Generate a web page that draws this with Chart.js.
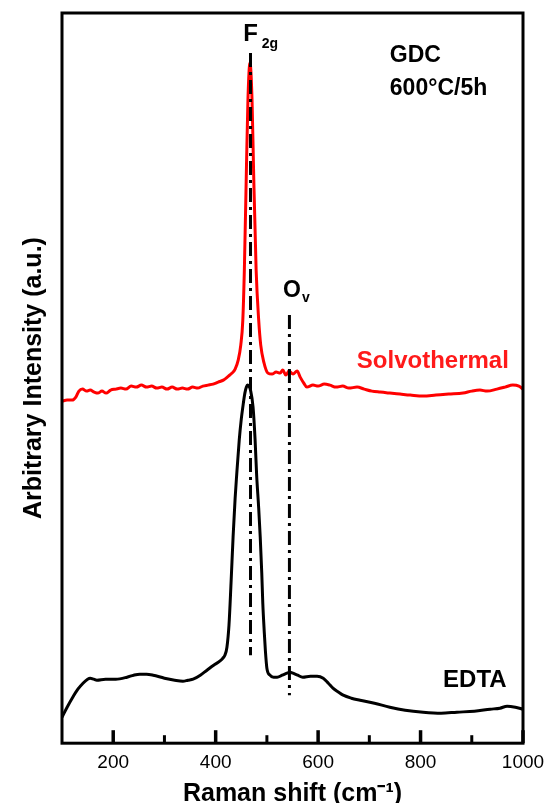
<!DOCTYPE html>
<html>
<head>
<meta charset="utf-8">
<script src="https://cdn.jsdelivr.net/npm/chart.js@4.4.1/dist/chart.umd.min.js"></script>
<style>
  html, body { margin:0; padding:0; background:#fff; }
  #wrap { width:547px; height:803px; position:relative; }
</style>
</head>
<body>
<div id="wrap"><canvas id="c"></canvas></div>
<script>
// Raman spectra, intensity in arbitrary units (offset traces)
const solvoShift = [100,110,120,127,133,140,148,155,163,170,178,186,195,205,215,225,235,245,255,265,275,285,295,305,315,325,335,345,355,365,375,385,395,405,415,425,432,438,444,449,453,456,460,463,467,471,474,479,484,488,494,502,510,518,526,531,537,543,551,559,565,572,578,590,600,612,623,635,648,660,676,690,705,721,740,760,780,805,830,855,883,900,916,930,949,965,980,992,1000];
const solvoInt   = [342,343,343,346,352,354,352,353,351,350,352,350,353,354,355,354,357,356,358,356,357,355,356,354,356,354,355,354,356,355,357,358,359,361,363,367,370,374,383,398,423,473,573,643,680,643,573,473,423,398,381,370,369,371,370,373,368,372,369,372,366,360,356,358,357,359,358,356,357,355,356,354,352,351,350,349,348,347,348,349,350,352,353,352,354,356,358,357,354];

const edtaShift = [100,110,121,131,141,150,155,162,168,185,205,227,240,252,265,278,300,320,336,346,356,370,383,396,408,414,418,422,426,430,434,438,441,446,450,453,457,460,462,465,468,473,477,480,484,487,490,492,495,497,500,506,513,520,530,539,545,551,560,570,585,598,610,620,629,640,649,665,682,710,740,770,805,840,871,905,936,955,969,985,1000];
const edtaInt   = [26,36,46,54,60,64,65,64,63,64,64,66,68,69,69,68,65,63,62,63,64,68,73,78,82,85,88,96,118,160,206,245,268,303,324,336,350,356,358,357,353,336,303,268,235,206,170,140,110,93,75,68,66,66,68,70,71,70,68,66,67,67,65,60,55,51,48,45,43,40,36,33,31,30,31,32,34,35,37,36,34];

// guide lines for the F2g and Ov modes
const f2gLineX = [468,468], f2gLineY = [690,88];
const ovLineX  = [544,544], ovLineY  = [428,48];

const majorTicks = [200,400,600,800,1000];
const minorTicks = [300,500,700,900];

const pts = (xs, ys) => xs.map((x,i) => ({x, y: ys[i]}));
const FONT = '"Liberation Sans", Arial, sans-serif';

const frame = {
  id:'frame',
  afterDatasetsDraw(chart){
    const {ctx, chartArea:a, scales:{x, y}} = chart;
    ctx.save();
    ctx.strokeStyle = '#000';
    ctx.lineWidth = 3;
    ctx.strokeRect(a.left, a.top, a.right - a.left, a.bottom - a.top);
    // inward ticks
    const tick = (v, len, w) => {
      const px = x.getPixelForValue(v);
      ctx.lineWidth = w;
      ctx.beginPath(); ctx.moveTo(px, a.bottom); ctx.lineTo(px, a.bottom - len); ctx.stroke();
    };
    majorTicks.forEach(v => tick(v, 13, 3.5));
    minorTicks.forEach(v => tick(v, 8, 3));

    const txt = (s, vx, vy, size, color, align) => {
      ctx.font = `bold ${size}px ${FONT}`;
      ctx.fillStyle = color;
      ctx.textAlign = align || 'center';
      ctx.textBaseline = 'middle';
      ctx.fillText(s, x.getPixelForValue(vx), y.getPixelForValue(vy));
    };
    txt('F', 468, 709, 24, '#000');
    txt('2g', 506, 699, 14, '#000');
    txt('O', 549, 452, 23, '#000');
    txt('v', 576, 445, 14, '#000');
    txt('GDC', 740, 687, 23, '#000', 'left');
    txt('600°C/5h', 740, 654, 23, '#000', 'left');
    txt('Solvothermal', 824, 382, 24, '#ff1a1a');
    txt('EDTA', 906, 63, 24, '#000');
    ctx.restore();
  }
};

new Chart(document.getElementById('c'), {
  type:'line',
  data:{
    datasets:[
      { data:pts(f2gLineX, f2gLineY), borderColor:'#000', borderWidth:3, borderDash:[14,5,3,5], pointRadius:0, order:0 },
      { data:pts(ovLineX, ovLineY),   borderColor:'#000', borderWidth:3, borderDash:[14,5,3,5], pointRadius:0, order:0 },
      { label:'Solvothermal', data:pts(solvoShift, solvoInt), borderColor:'#ff0000', borderWidth:3, pointRadius:0, cubicInterpolationMode:'monotone', order:1 },
      { label:'EDTA', data:pts(edtaShift, edtaInt), borderColor:'#000', borderWidth:3, pointRadius:0, cubicInterpolationMode:'monotone', order:1 }
    ]
  },
  options:{
    responsive:true,
    maintainAspectRatio:false,
    animation:false,
    layout:{ padding:{ left:12, right:24, top:13, bottom:-4 } },
    plugins:{ legend:{ display:false }, tooltip:{ enabled:false } },
    scales:{
      x:{
        type:'linear', min:100, max:1000,
        afterBuildTicks: s => { s.ticks = majorTicks.map(v => ({value:v})); },
        afterFit: s => { s.paddingRight = 0; },
        grid:{ display:false, drawTicks:false },
        border:{ display:false },
        ticks:{ color:'#000', padding:8, maxRotation:0, font:{ family:FONT, size:19 }, callback: v => String(v) },
        title:{ display:true, text:'Raman shift (cm⁻¹)', color:'#000', padding:{ top:0, bottom:0 }, font:{ family:FONT, size:25, weight:'bold', lineHeight:1.0 } }
      },
      y:{
        min:0, max:730,
        grid:{ display:false, drawTicks:false },
        border:{ display:false },
        ticks:{ display:false },
        title:{ display:true, text:'Arbitrary Intensity (a.u.)', color:'#000', padding:{ top:7, bottom:13 }, font:{ family:FONT, size:25, weight:'bold' } }
      }
    }
  },
  plugins:[frame]
});
</script>
</body>
</html>
